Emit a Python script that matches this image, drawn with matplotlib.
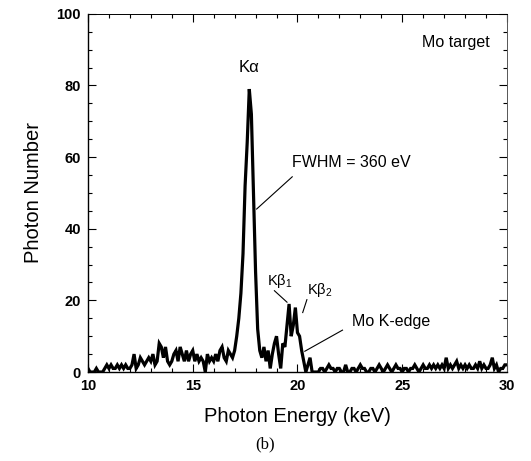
import matplotlib
matplotlib.use("Agg")
import matplotlib.pyplot as plt
import numpy as np
from matplotlib.ticker import MultipleLocator


E_START = 10.0
E_STEP = 0.1
# photon counts, one value per 0.1 keV from 10.0 to 30.0 keV
COUNTS = [
    1, 0, 0, 0, 1, 0, 0, 0, 1, 2,          # 10
    1, 2, 1, 1, 2, 1, 2, 1, 2, 1,          # 11
    1, 2, 5, 1, 2, 4, 3, 2, 3, 4,          # 12
    3, 5, 2, 3, 8, 7, 4, 7, 3, 2,          # 13
    3, 5, 6, 3, 7, 5, 3, 6, 3, 5,          # 14
    6, 3, 5, 3, 4, 3, 0, 5, 3, 4,          # 15
    3, 5, 3, 6, 7, 4, 3, 6, 5, 4,          # 16
    6, 10, 15, 22, 33, 52, 64, 79, 72, 50,  # 17
    28, 12, 6, 4, 7, 3, 6, 1, 5, 8,        # 18
    10, 5, 1, 8, 7, 13, 19, 10, 13, 18,    # 19
    11, 10, 6, 3, 0, 2, 4, 0, 0, 0,        # 20
    0, 1, 1, 0, 1, 2, 1, 1, 0, 1,          # 21
    1, 0, 0, 2, 0, 0, 1, 1, 0, 1,          # 22
    2, 1, 1, 0, 0, 1, 1, 0, 1, 2,          # 23
    1, 0, 1, 2, 1, 0, 1, 2, 1, 1,          # 24
    0, 1, 1, 0, 1, 1, 2, 1, 0, 1,          # 25
    2, 1, 1, 2, 1, 2, 1, 2, 1, 2,          # 26
    1, 4, 1, 2, 1, 2, 3, 1, 2, 1,          # 27
    2, 1, 2, 1, 1, 2, 1, 3, 1, 2,          # 28
    1, 1, 2, 4, 1, 2, 0, 1, 1, 2,          # 29
    2,                                     # 30
]
energy = E_START + E_STEP * np.arange(len(COUNTS))

plt.rcParams.update({"font.family": ["Liberation Sans", "DejaVu Sans"]})
fig = plt.figure(figsize=(5.31, 4.61), dpi=100)
ax = fig.add_axes([0.1657, 0.193, 0.789, 0.777])

ax.plot(energy, COUNTS, color="black", lw=2.3, solid_joinstyle="miter")

ax.set_xlim(10, 30)
ax.set_ylim(0, 100)
ax.xaxis.set_major_locator(MultipleLocator(5))
ax.xaxis.set_minor_locator(MultipleLocator(1))
ax.yaxis.set_major_locator(MultipleLocator(20))
ax.yaxis.set_minor_locator(MultipleLocator(5))
ax.tick_params(which="both", direction="in", top=True, right=True, width=0.8)
ax.tick_params(which="major", length=6, labelsize=10.5, pad=5)
ax.tick_params(which="minor", length=3)
for lab in ax.get_xticklabels() + ax.get_yticklabels():
    lab.set_fontweight("bold")
ax.spines["left"].set_linewidth(1.0)
ax.spines["bottom"].set_linewidth(1.0)
ax.spines["top"].set_linewidth(0.7)
ax.spines["right"].set_linewidth(0.7)
ax.spines["right"].set_color("#555555")

ax.set_xlabel("Photon Energy (keV)", fontsize=14.5, labelpad=10)
ax.set_ylabel("Photon Number", fontsize=14.5, labelpad=10)

ax.text(17.7, 83, "K\u03b1", fontsize=12, ha="center", va="bottom")
ax.text(29.2, 92, "Mo target", fontsize=11.5, ha="right", va="center")
ax.text(19.75, 58.5, "FWHM = 360 eV", fontsize=11.5, ha="left", va="center")
ax.plot([19.75, 18.05], [54.5, 45.5], color="black", lw=0.8)
ax.text(18.55, 25.5, "K\u03b2$_\\mathregular{1}$", fontsize=10.5, ha="left", va="center")
ax.plot([18.9, 19.5], [22.7, 19.5], color="black", lw=0.8)
ax.text(20.45, 23.0, "K\u03b2$_\\mathregular{2}$", fontsize=10.5, ha="left", va="center")
ax.plot([20.45, 20.25], [20.2, 16.6], color="black", lw=0.8)
ax.text(22.6, 14.0, "Mo K-edge", fontsize=11.5, ha="left", va="center")
ax.plot([22.15, 20.35], [11.7, 5.8], color="black", lw=0.8)

fig.text(0.5, 0.035, "(b)", fontsize=12, ha="center", va="center",
         family=["Liberation Serif", "DejaVu Serif"])

fig.savefig("out.png", dpi=100)
